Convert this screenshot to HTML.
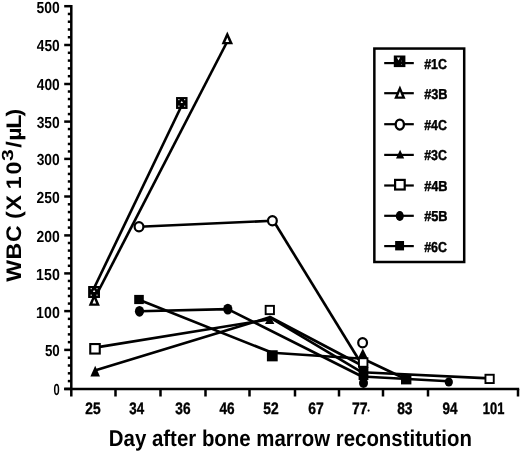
<!DOCTYPE html>
<html><head><meta charset="utf-8"><style>
html,body{margin:0;padding:0;background:#fff;}
svg{display:block;}
text{font-family:"Liberation Sans",sans-serif;fill:#000;text-rendering:geometricPrecision;}
svg{will-change:transform;}
</style></head><body>
<svg width="520" height="453" viewBox="0 0 520 453">
<line x1="71.3" y1="4.95" x2="71.3" y2="396.5" stroke="#000" stroke-width="2.5"/>
<line x1="64.2" y1="388.9" x2="519.2" y2="388.9" stroke="#000" stroke-width="2.5"/>
<line x1="64.2" y1="388.90" x2="71.3" y2="388.90" stroke="#000" stroke-width="2.5"/>
<line x1="67.8" y1="381.10" x2="71.3" y2="381.10" stroke="#000" stroke-width="2.5"/>
<line x1="67.8" y1="373.30" x2="71.3" y2="373.30" stroke="#000" stroke-width="2.5"/>
<line x1="67.8" y1="365.50" x2="71.3" y2="365.50" stroke="#000" stroke-width="2.5"/>
<line x1="67.8" y1="357.70" x2="71.3" y2="357.70" stroke="#000" stroke-width="2.5"/>
<line x1="64.2" y1="349.90" x2="71.3" y2="349.90" stroke="#000" stroke-width="2.5"/>
<line x1="67.8" y1="342.14" x2="71.3" y2="342.14" stroke="#000" stroke-width="2.5"/>
<line x1="67.8" y1="334.38" x2="71.3" y2="334.38" stroke="#000" stroke-width="2.5"/>
<line x1="67.8" y1="326.62" x2="71.3" y2="326.62" stroke="#000" stroke-width="2.5"/>
<line x1="67.8" y1="318.86" x2="71.3" y2="318.86" stroke="#000" stroke-width="2.5"/>
<line x1="64.2" y1="311.10" x2="71.3" y2="311.10" stroke="#000" stroke-width="2.5"/>
<line x1="67.8" y1="303.56" x2="71.3" y2="303.56" stroke="#000" stroke-width="2.5"/>
<line x1="67.8" y1="296.02" x2="71.3" y2="296.02" stroke="#000" stroke-width="2.5"/>
<line x1="67.8" y1="288.48" x2="71.3" y2="288.48" stroke="#000" stroke-width="2.5"/>
<line x1="67.8" y1="280.94" x2="71.3" y2="280.94" stroke="#000" stroke-width="2.5"/>
<line x1="64.2" y1="273.40" x2="71.3" y2="273.40" stroke="#000" stroke-width="2.5"/>
<line x1="67.8" y1="265.80" x2="71.3" y2="265.80" stroke="#000" stroke-width="2.5"/>
<line x1="67.8" y1="258.20" x2="71.3" y2="258.20" stroke="#000" stroke-width="2.5"/>
<line x1="67.8" y1="250.60" x2="71.3" y2="250.60" stroke="#000" stroke-width="2.5"/>
<line x1="67.8" y1="243.00" x2="71.3" y2="243.00" stroke="#000" stroke-width="2.5"/>
<line x1="64.2" y1="235.40" x2="71.3" y2="235.40" stroke="#000" stroke-width="2.5"/>
<line x1="67.8" y1="227.62" x2="71.3" y2="227.62" stroke="#000" stroke-width="2.5"/>
<line x1="67.8" y1="219.84" x2="71.3" y2="219.84" stroke="#000" stroke-width="2.5"/>
<line x1="67.8" y1="212.06" x2="71.3" y2="212.06" stroke="#000" stroke-width="2.5"/>
<line x1="67.8" y1="204.28" x2="71.3" y2="204.28" stroke="#000" stroke-width="2.5"/>
<line x1="64.2" y1="196.50" x2="71.3" y2="196.50" stroke="#000" stroke-width="2.5"/>
<line x1="67.8" y1="188.98" x2="71.3" y2="188.98" stroke="#000" stroke-width="2.5"/>
<line x1="67.8" y1="181.46" x2="71.3" y2="181.46" stroke="#000" stroke-width="2.5"/>
<line x1="67.8" y1="173.94" x2="71.3" y2="173.94" stroke="#000" stroke-width="2.5"/>
<line x1="67.8" y1="166.42" x2="71.3" y2="166.42" stroke="#000" stroke-width="2.5"/>
<line x1="64.2" y1="158.90" x2="71.3" y2="158.90" stroke="#000" stroke-width="2.5"/>
<line x1="67.8" y1="151.44" x2="71.3" y2="151.44" stroke="#000" stroke-width="2.5"/>
<line x1="67.8" y1="143.98" x2="71.3" y2="143.98" stroke="#000" stroke-width="2.5"/>
<line x1="67.8" y1="136.52" x2="71.3" y2="136.52" stroke="#000" stroke-width="2.5"/>
<line x1="67.8" y1="129.06" x2="71.3" y2="129.06" stroke="#000" stroke-width="2.5"/>
<line x1="64.2" y1="121.60" x2="71.3" y2="121.60" stroke="#000" stroke-width="2.5"/>
<line x1="67.8" y1="114.08" x2="71.3" y2="114.08" stroke="#000" stroke-width="2.5"/>
<line x1="67.8" y1="106.56" x2="71.3" y2="106.56" stroke="#000" stroke-width="2.5"/>
<line x1="67.8" y1="99.04" x2="71.3" y2="99.04" stroke="#000" stroke-width="2.5"/>
<line x1="67.8" y1="91.52" x2="71.3" y2="91.52" stroke="#000" stroke-width="2.5"/>
<line x1="64.2" y1="84.00" x2="71.3" y2="84.00" stroke="#000" stroke-width="2.5"/>
<line x1="67.8" y1="76.20" x2="71.3" y2="76.20" stroke="#000" stroke-width="2.5"/>
<line x1="67.8" y1="68.40" x2="71.3" y2="68.40" stroke="#000" stroke-width="2.5"/>
<line x1="67.8" y1="60.60" x2="71.3" y2="60.60" stroke="#000" stroke-width="2.5"/>
<line x1="67.8" y1="52.80" x2="71.3" y2="52.80" stroke="#000" stroke-width="2.5"/>
<line x1="64.2" y1="45.00" x2="71.3" y2="45.00" stroke="#000" stroke-width="2.5"/>
<line x1="67.8" y1="37.24" x2="71.3" y2="37.24" stroke="#000" stroke-width="2.5"/>
<line x1="67.8" y1="29.48" x2="71.3" y2="29.48" stroke="#000" stroke-width="2.5"/>
<line x1="67.8" y1="21.72" x2="71.3" y2="21.72" stroke="#000" stroke-width="2.5"/>
<line x1="67.8" y1="13.96" x2="71.3" y2="13.96" stroke="#000" stroke-width="2.5"/>
<line x1="64.2" y1="6.20" x2="71.3" y2="6.20" stroke="#000" stroke-width="2.5"/>
<line x1="115.5" y1="388.9" x2="115.5" y2="396.5" stroke="#000" stroke-width="2.5"/>
<line x1="160.5" y1="388.9" x2="160.5" y2="396.5" stroke="#000" stroke-width="2.5"/>
<line x1="205.5" y1="388.9" x2="205.5" y2="396.5" stroke="#000" stroke-width="2.5"/>
<line x1="249.5" y1="388.9" x2="249.5" y2="396.5" stroke="#000" stroke-width="2.5"/>
<line x1="295" y1="388.9" x2="295" y2="396.5" stroke="#000" stroke-width="2.5"/>
<line x1="339" y1="388.9" x2="339" y2="396.5" stroke="#000" stroke-width="2.5"/>
<line x1="383" y1="388.9" x2="383" y2="396.5" stroke="#000" stroke-width="2.5"/>
<line x1="428" y1="388.9" x2="428" y2="396.5" stroke="#000" stroke-width="2.5"/>
<line x1="518" y1="388.9" x2="518" y2="396.5" stroke="#000" stroke-width="2.5"/>
<g fill="#000"><text x="53.46" y="395.30" font-size="15.99" font-weight="bold" textLength="6.20" lengthAdjust="spacingAndGlyphs">0</text><text x="44.89" y="356.30" font-size="15.99" font-weight="bold" textLength="14.86" lengthAdjust="spacingAndGlyphs">50</text><text x="36.11" y="317.50" font-size="15.99" font-weight="bold" textLength="23.68" lengthAdjust="spacingAndGlyphs">100</text><text x="36.11" y="279.80" font-size="15.99" font-weight="bold" textLength="23.68" lengthAdjust="spacingAndGlyphs">150</text><text x="36.52" y="241.80" font-size="15.99" font-weight="bold" textLength="23.25" lengthAdjust="spacingAndGlyphs">200</text><text x="36.52" y="202.90" font-size="15.99" font-weight="bold" textLength="23.25" lengthAdjust="spacingAndGlyphs">250</text><text x="36.68" y="165.30" font-size="15.99" font-weight="bold" textLength="23.09" lengthAdjust="spacingAndGlyphs">300</text><text x="36.68" y="128.00" font-size="15.99" font-weight="bold" textLength="23.09" lengthAdjust="spacingAndGlyphs">350</text><text x="36.79" y="90.40" font-size="15.99" font-weight="bold" textLength="22.97" lengthAdjust="spacingAndGlyphs">400</text><text x="36.79" y="51.40" font-size="15.99" font-weight="bold" textLength="22.97" lengthAdjust="spacingAndGlyphs">450</text><text x="36.57" y="12.60" font-size="15.99" font-weight="bold" textLength="23.20" lengthAdjust="spacingAndGlyphs">500</text></g>
<g fill="#000" stroke="#000" stroke-width="0.4"><text x="85.32" y="413.50" font-size="16.57" font-weight="bold" textLength="15.26" lengthAdjust="spacingAndGlyphs">25</text><text x="129.30" y="413.50" font-size="16.57" font-weight="bold" textLength="14.78" lengthAdjust="spacingAndGlyphs">34</text><text x="175.29" y="413.50" font-size="16.57" font-weight="bold" textLength="15.21" lengthAdjust="spacingAndGlyphs">36</text><text x="219.49" y="413.50" font-size="16.57" font-weight="bold" textLength="15.10" lengthAdjust="spacingAndGlyphs">46</text><text x="263.27" y="413.50" font-size="16.57" font-weight="bold" textLength="15.38" lengthAdjust="spacingAndGlyphs">52</text><text x="308.19" y="413.50" font-size="16.57" font-weight="bold" textLength="15.52" lengthAdjust="spacingAndGlyphs">67</text><text x="352.00" y="413.50" font-size="16.57" font-weight="bold" textLength="15.62" lengthAdjust="spacingAndGlyphs">77</text><text x="397.16" y="413.50" font-size="16.57" font-weight="bold" textLength="15.34" lengthAdjust="spacingAndGlyphs">83</text><text x="442.43" y="413.50" font-size="16.57" font-weight="bold" textLength="14.94" lengthAdjust="spacingAndGlyphs">94</text><text x="482.84" y="413.50" font-size="16.57" font-weight="bold" textLength="21.47" lengthAdjust="spacingAndGlyphs">101</text></g>
<circle cx="368.6" cy="410.6" r="1.1" fill="#000"/>
<polyline fill="none" stroke="#000" stroke-width="2.65" stroke-linejoin="round" points="92.3,291.8 183,102.8"/>
<polyline fill="none" stroke="#000" stroke-width="2.65" stroke-linejoin="round" points="93.5,300.5 226.5,43"/>
<polyline fill="none" stroke="#000" stroke-width="2.65" stroke-linejoin="round" points="139,226.7 272.4,220.8"/>
<polyline fill="none" stroke="#000" stroke-width="2.65" stroke-linejoin="round" points="274.2,222 359.8,361.3"/>
<polyline fill="none" stroke="#000" stroke-width="2.65" stroke-linejoin="round" points="94.8,370.4 269.7,317.3 362,372.3 489.6,378.4"/>
<polyline fill="none" stroke="#000" stroke-width="2.65" stroke-linejoin="round" points="95,347.6 269.7,319.3 270,317 362,365.5"/>
<polyline fill="none" stroke="#000" stroke-width="2.65" stroke-linejoin="round" points="139.5,311.3 227.8,309.1 362,376.5 448.5,381.2"/>
<polyline fill="none" stroke="#000" stroke-width="2.65" stroke-linejoin="round" points="139,299.8 272.3,352.8 363,358.8 406.2,379.2"/>
<ellipse cx="362.6" cy="342.8" rx="4.40" ry="4.60" fill="#fff" stroke="#000" stroke-width="2.2"/>
<polygon points="362.80,348.50 367.80,358.50 357.80,358.50" fill="#000"/>
<rect x="358.60" y="367.00" width="9.8" height="13" fill="#000"/>
<ellipse cx="363.5" cy="383" rx="4.5" ry="5" fill="#000"/>
<rect x="358.95" y="358.25" width="8.50" height="8.50" fill="#fff" stroke="#000" stroke-width="1.9"/>
<rect x="88.35" y="286.05" width="11.5" height="11.9" fill="#000"/><rect x="90.60" y="288.00" width="1.2" height="1.2" fill="#eee"/><rect x="96.45" y="288.05" width="1.1" height="1.1" fill="#eee"/><rect x="90.60" y="294.60" width="1.2" height="1.2" fill="#eee"/><rect x="96.45" y="294.65" width="1.1" height="1.1" fill="#eee"/><polygon points="94.10,289.80 95.30,292.10 92.90,292.10" fill="#fff"/>
<rect x="176.05" y="97.05" width="11.5" height="11.9" fill="#000"/><rect x="178.30" y="99.00" width="1.2" height="1.2" fill="#eee"/><rect x="184.15" y="99.05" width="1.1" height="1.1" fill="#eee"/><rect x="178.30" y="105.60" width="1.2" height="1.2" fill="#eee"/><rect x="184.15" y="105.65" width="1.1" height="1.1" fill="#eee"/><polygon points="181.80,100.80 183.00,103.10 180.60,103.10" fill="#fff"/>
<polygon points="94.30,293.00 99.90,305.80 88.70,305.80" fill="#000"/><polygon points="94.30,299.00 96.13,303.40 92.47,303.40" fill="#fff"/>
<polygon points="227.30,31.50 233.05,44.30 221.55,44.30" fill="#000"/><polygon points="227.30,37.50 229.18,41.90 225.42,41.90" fill="#fff"/>
<rect x="88.35" y="286.05" width="11.5" height="11.9" fill="#000"/><rect x="90.60" y="288.00" width="1.2" height="1.2" fill="#eee"/><rect x="96.45" y="288.05" width="1.1" height="1.1" fill="#eee"/><rect x="90.60" y="294.60" width="1.2" height="1.2" fill="#eee"/><rect x="96.45" y="294.65" width="1.1" height="1.1" fill="#eee"/><polygon points="94.10,289.80 95.30,292.10 92.90,292.10" fill="#fff"/>
<ellipse cx="139" cy="226.7" rx="4.40" ry="4.60" fill="#fff" stroke="#000" stroke-width="2.2"/>
<ellipse cx="272.4" cy="220.8" rx="4.40" ry="4.60" fill="#fff" stroke="#000" stroke-width="2.2"/>
<polygon points="95.20,365.80 100.00,376.40 90.40,376.40" fill="#000"/>
<polygon points="269.70,315.50 274.40,324.00 265.00,324.00" fill="#000"/>
<rect x="90.25" y="344.05" width="9.50" height="9.50" fill="#fff" stroke="#000" stroke-width="2.1"/>
<rect x="265.65" y="305.85" width="8.30" height="8.30" fill="#fff" stroke="#000" stroke-width="1.9"/>
<rect x="485.45" y="374.75" width="8.30" height="8.30" fill="#fff" stroke="#000" stroke-width="1.9"/>
<ellipse cx="139.5" cy="311.3" rx="4.6" ry="5.4" fill="#000"/>
<ellipse cx="227.8" cy="309.1" rx="4.6" ry="5.4" fill="#000"/>
<ellipse cx="448.8" cy="382" rx="4.1" ry="4.6" fill="#000"/>
<rect x="134.20" y="294.90" width="9.6" height="9.2" fill="#000"/>
<rect x="266.90" y="350.25" width="10.8" height="11.1" fill="#000"/>
<rect x="401.00" y="374.00" width="10.4" height="10.4" fill="#000"/>
<rect x="374.35" y="48.55" width="89.85" height="213.45" fill="#fff" stroke="#000" stroke-width="2.5"/>
<line x1="384.2" y1="63.1" x2="413.8" y2="63.1" stroke="#000" stroke-width="2.2"/>
<line x1="384.2" y1="93.2" x2="413.8" y2="93.2" stroke="#000" stroke-width="2.2"/>
<line x1="384.2" y1="124.2" x2="413.8" y2="124.2" stroke="#000" stroke-width="2.2"/>
<line x1="384.2" y1="154.9" x2="413.8" y2="154.9" stroke="#000" stroke-width="2.2"/>
<line x1="384.2" y1="185.5" x2="413.8" y2="185.5" stroke="#000" stroke-width="2.2"/>
<line x1="384.2" y1="215.8" x2="413.8" y2="215.8" stroke="#000" stroke-width="2.2"/>
<line x1="384.2" y1="246.1" x2="413.8" y2="246.1" stroke="#000" stroke-width="2.2"/>
<rect x="393.8" y="55.5" width="11.6" height="11.6" fill="#000"/><polygon points="396.9,57.5 400.1,57.5 398.5,60.6" fill="#fff"/><rect x="401" y="60.6" width="0.9" height="0.9" fill="#777"/><rect x="401" y="64" width="0.9" height="0.9" fill="#777"/>
<polygon points="399.90,85.40 405.60,98.80 394.20,98.80" fill="#000"/><polygon points="399.90,91.40 401.92,96.40 397.88,96.40" fill="#fff"/>
<ellipse cx="399.8" cy="124.6" rx="4.15" ry="4.95" fill="#fff" stroke="#000" stroke-width="2.3"/>
<polygon points="400.10,149.70 404.20,158.60 396.00,158.60" fill="#000"/>
<rect x="395.10" y="179.90" width="9.60" height="9.60" fill="#fff" stroke="#000" stroke-width="2.2"/>
<ellipse cx="399.8" cy="216" rx="4.0" ry="5.1" fill="#000"/>
<rect x="395.15" y="241.00" width="8.9" height="9.4" fill="#000"/>
<g fill="#000" stroke="#000" stroke-width="0.45"><text x="424.19" y="68.50" font-size="14.39" font-weight="bold" textLength="22.75" lengthAdjust="spacingAndGlyphs">#1C</text><text x="424.18" y="98.60" font-size="14.39" font-weight="bold" textLength="23.40" lengthAdjust="spacingAndGlyphs">#3B</text><text x="424.19" y="129.60" font-size="14.39" font-weight="bold" textLength="22.75" lengthAdjust="spacingAndGlyphs">#4C</text><text x="424.19" y="160.30" font-size="14.39" font-weight="bold" textLength="22.75" lengthAdjust="spacingAndGlyphs">#3C</text><text x="424.18" y="190.90" font-size="14.39" font-weight="bold" textLength="23.40" lengthAdjust="spacingAndGlyphs">#4B</text><text x="424.18" y="221.20" font-size="14.39" font-weight="bold" textLength="23.40" lengthAdjust="spacingAndGlyphs">#5B</text><text x="424.19" y="251.50" font-size="14.39" font-weight="bold" textLength="22.75" lengthAdjust="spacingAndGlyphs">#6C</text></g>
<text x="108.83" y="446.30" font-size="22.82" font-weight="bold" textLength="363.03" lengthAdjust="spacingAndGlyphs">Day after bone marrow reconstitution</text>
<text transform="translate(21.2,0) rotate(-90) scale(1.1,1)" y="0" font-size="21.08" font-weight="bold"><tspan x="-256.04 -236.02 -219.98 -204.76 -199.02 -191.26 -177.20 -171.96 -158.71">WBC (X 10</tspan><tspan x="-146.35" dy="-7.9" font-size="16.04" textLength="10.68" lengthAdjust="spacingAndGlyphs">3</tspan><tspan x="-134.38 -127.99 -117.05 -106.00" dy="7.9">/&#181;L)</tspan></text>
</svg>
</body></html>
